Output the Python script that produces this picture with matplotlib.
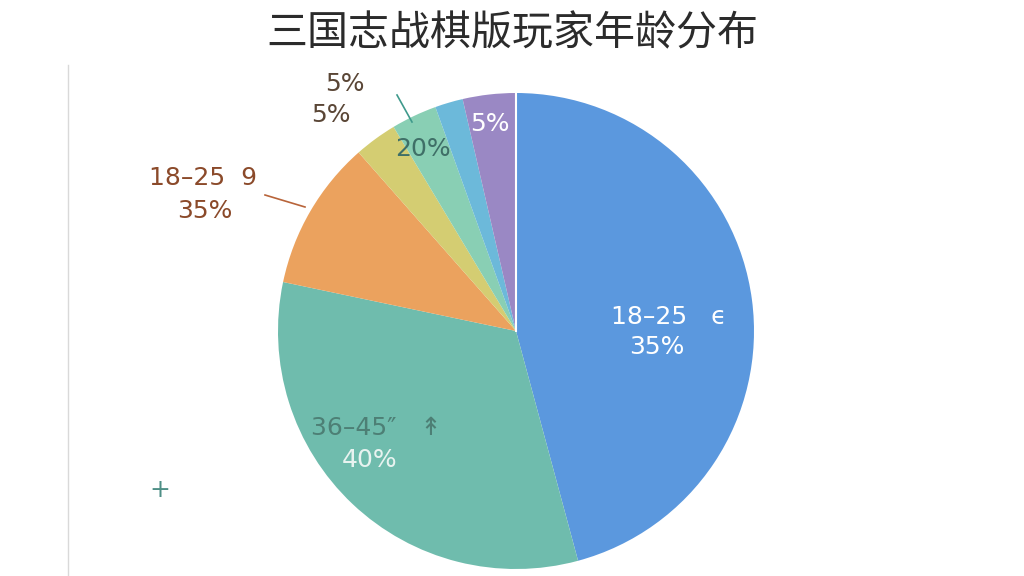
import matplotlib
matplotlib.use("Agg")
import matplotlib.pyplot as plt
import numpy as np

plt.rcParams['font.family'] = ['Noto Sans CJK SC', 'DejaVu Sans']

title = "三国志战棋版玩家年龄分布"
categories = ["18–25 ϵ", "36–45″", "18–25 9", "5%", "20%", "5% (b)", "5% (c)"]
values = [45.8, 32.5, 10.2, 2.9, 3.1, 1.9, 3.6]
colors = ["#5b98de", "#6fbcad", "#eba25e", "#d4cd72", "#89cfb4", "#6cb9da", "#9a88c4"]

fig = plt.figure(figsize=(10.24, 5.76), dpi=100)
ax = fig.add_axes([0, 0, 1, 1])

cx, cy, r = 516, 576 - 331, 238
wedges, _ = ax.pie(values, colors=colors, startangle=90, counterclock=False,
                   center=(cx, cy), radius=r, frame=True,
                   wedgeprops=dict(linewidth=0))
ax.set_xlim(0, 1024)
ax.set_ylim(0, 576)
ax.axis('off')

# white separator at top
ax.plot([cx, cx], [cy, cy + r], color="white", lw=1.5)

# title
fig.text(0.5, 1 - 34 / 576, title, ha='center', va='center', fontsize=29.5, color="#2b2b2b")

# left thin line
ax.plot([68, 68], [0, 576 - 65], color="#d9d9d9", lw=1)

lf = ['DejaVu Sans']
fs = 18
# labels
ax.text(611, 576 - 317, "18–25   ϵ", ha='left', va='center', fontsize=fs, color="white", family=lf)
ax.text(657, 576 - 347, "35%", ha='center', va='center', fontsize=fs, color="white", family=lf)

ax.text(311, 576 - 428, "36–45″   ↟", ha='left', va='center', fontsize=fs, color="#4d7f75", family=lf)
ax.text(370, 576 - 460, "40%", ha='center', va='center', fontsize=fs, color="#e8f3f0", family=lf)

ax.text(149, 576 - 178, "18–25  9", ha='left', va='center', fontsize=fs, color="#8b4a2a", family=lf)
ax.text(205, 576 - 211, "35%", ha='center', va='center', fontsize=fs, color="#8b4a2a", family=lf)
ax.plot([265, 305], [576 - 195, 576 - 207], color="#b8643a", lw=1.2)

ax.text(345, 576 - 84, "5%", ha='center', va='center', fontsize=fs, color="#5a4636", family=lf)
ax.text(331, 576 - 115, "5%", ha='center', va='center', fontsize=fs, color="#5a4636", family=lf)

ax.text(423, 576 - 149, "20%", ha='center', va='center', fontsize=fs, color="#3f6f67", family=lf)
ax.plot([397, 412], [576 - 95, 576 - 122], color="#3f9a8c", lw=1.2)

ax.text(490, 576 - 124, "5%", ha='center', va='center', fontsize=fs, color="white", family=lf)

ax.text(160, 576 - 490, "+", ha='center', va='center', fontsize=18, color="#4e8f86", family=lf)

fig.savefig("out.png", dpi=100, facecolor="white")
